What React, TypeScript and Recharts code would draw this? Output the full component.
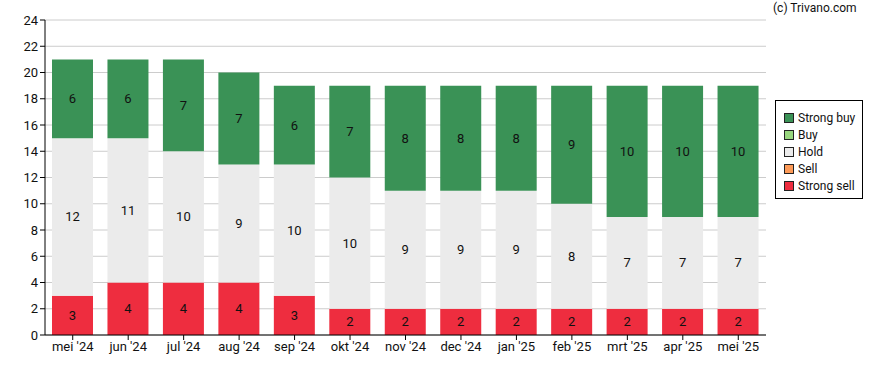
import { BarChart, Bar, XAxis, YAxis, CartesianGrid, LabelList } from "recharts";

const months = ["mei '24", "jun '24", "jul '24", "aug '24", "sep '24", "okt '24", "nov '24", "dec '24", "jan '25", "feb '25", "mrt '25", "apr '25", "mei '25"];
const strongSell = [3, 4, 4, 4, 3, 2, 2, 2, 2, 2, 2, 2, 2];
const sell = [0, 0, 0, 0, 0, 0, 0, 0, 0, 0, 0, 0, 0];
const hold = [12, 11, 10, 9, 10, 10, 9, 9, 9, 8, 7, 7, 7];
const buy = [0, 0, 0, 0, 0, 0, 0, 0, 0, 0, 0, 0, 0];
const strongBuy = [6, 6, 7, 7, 6, 7, 8, 8, 8, 9, 10, 10, 10];
const yTicks = [0, 2, 4, 6, 8, 10, 12, 14, 16, 18, 20, 22, 24];

const series = [
  { key: "strongBuy", name: "Strong buy", color: "#3a9256" },
  { key: "buy", name: "Buy", color: "#98d67e" },
  { key: "hold", name: "Hold", color: "#ebebeb" },
  { key: "sell", name: "Sell", color: "#fd9a57" },
  { key: "strongSell", name: "Strong sell", color: "#ee2d3f" },
];

const data = months.map((m, i) => ({
  month: m,
  strongSell: strongSell[i],
  sell: sell[i],
  hold: hold[i],
  buy: buy[i],
  strongBuy: strongBuy[i],
}));

const font = "Roboto, sans-serif";

// hide labels for empty segments
const labelFmt = (v: number) => (v ? v : "");

function LegendBox() {
  return (
    <div
      style={{
        position: "absolute", left: 775, top: 100, width: 88, height: 99, boxSizing: "border-box",
        border: "1px solid #000", background: "#fff", padding: "8px 0 0 8px", fontFamily: font, fontSize: 12,
      }}
    >
      {series.map((s) => (
        <div key={s.key} style={{ display: "flex", alignItems: "center", height: 17, whiteSpace: "nowrap" }}>
          <span style={{ width: 8, height: 8, background: s.color, border: "1px solid #222", marginRight: 4, display: "inline-block" }} />
          <span style={{ color: "#111" }}>{s.name}</span>
        </div>
      ))}
    </div>
  );
}

export default function App() {
  const stackOrder = [...series].reverse();
  return (
    <div style={{ position: "absolute", left: 0, top: 0, width: 888, height: 370, background: "#fff" }}>
      <BarChart width={888} height={370} data={data} margin={{ top: 20, right: 122, left: 0, bottom: 10 }} barSize={41}>
        <CartesianGrid stroke="#cccccc" vertical={false} />
        <XAxis
          dataKey="month"
          height={25}
          tick={{ fontSize: 13, fill: "#111", fontFamily: font }}
          axisLine={{ stroke: "#000" }}
          tickLine={{ stroke: "#000" }}
          tickSize={5}
          interval={0}
        />
        <YAxis
          width={45}
          domain={[0, 24]}
          ticks={yTicks}
          tick={{ fontSize: 13, fill: "#111", fontFamily: font }}
          axisLine={{ stroke: "#000" }}
          tickLine={{ stroke: "#000" }}
          tickSize={5}
          interval={0}
        />
        {stackOrder.map((s) => (
          <Bar key={s.key} dataKey={s.key} name={s.name} stackId="a" fill={s.color} isAnimationActive={false}>
            <LabelList dataKey={s.key} position="center" formatter={labelFmt} style={{ fontSize: 13, fill: "#111", fontFamily: font }} />
          </Bar>
        ))}
      </BarChart>
      <div style={{ position: "absolute", left: 773, top: 1, fontFamily: font, fontSize: 12, color: "#111" }}>(c) Trivano.com</div>
      <LegendBox />
    </div>
  );
}
